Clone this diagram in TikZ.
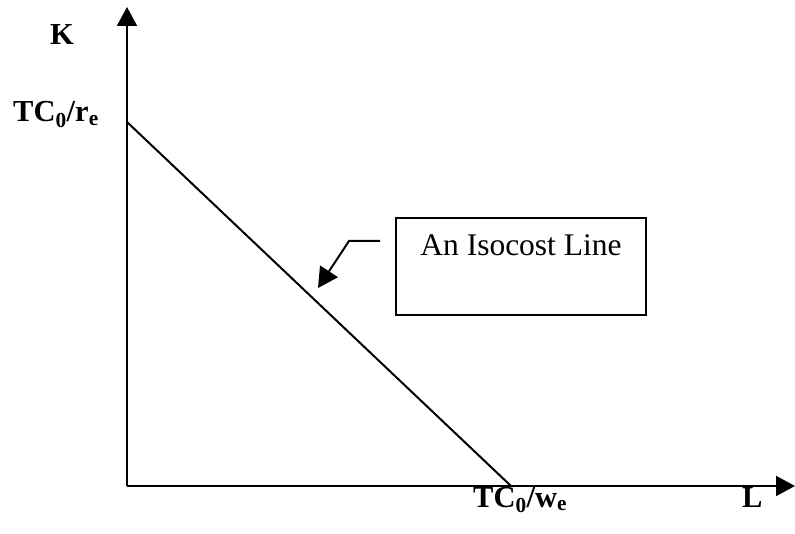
\documentclass[tikz,border=0pt]{standalone}
\usepackage{fontspec}
\setmainfont{Liberation Serif}
\usepackage{tikz}
\usetikzlibrary{arrows.meta,positioning,calc}
\newcommand{\sub}[1]{\textsubscript{#1}}

\begin{document}
\begin{tikzpicture}[
    x=1pt, y=1pt,
    axisLine/.style={-{Triangle[length=19pt,width=20pt]}, line width=2pt},
    costLine/.style={line width=2pt},
    axisLabel/.style={font=\fontsize{30.5}{36}\selectfont\bfseries, inner sep=0pt, anchor=base west},
    calloutBox/.style={
        rectangle,
        draw,
        line width=2pt,
        minimum width=250pt,
        minimum height=97pt
    },
    calloutArrow/.style={-{Triangle[length=20pt,width=21pt]}, line width=2pt}
]
    \useasboundingbox (0,0) rectangle (795,533);

    \coordinate (origin) at (127,47);
    \coordinate (kTop) at (127,526);
    \coordinate (lEnd) at (795,47);
    \coordinate (kIntercept) at (127,411);
    \coordinate (lIntercept) at (511,47);

    \draw[axisLine] (origin) -- (kTop);
    \draw[axisLine] (origin) -- (lEnd);
    \draw[costLine] (kIntercept) -- (lIntercept);

    \node[axisLabel] (kLabel) at (50,488) {K};
    \node[axisLabel] (rLabel) at (13,411) {TC\sub{0}/r\sub{e}};
    \node[axisLabel] (wLabel) at (473,26) {TC\sub{0}/w\sub{e}};
    \node[axisLabel] (lLabel) at (742,26) {L};

    \node[calloutBox] (isoBox) at (521,266.5) {};
    \node[font=\fontsize{31.5}{36}\selectfont, inner sep=0pt, anchor=base]
        (isoText) at ([yshift=-39pt]isoBox.north) {An Isocost Line};

    \coordinate (calloutStart) at (380,292);
    \coordinate (calloutBend) at (349,292);
    \coordinate (calloutTip) at (318,245);
    \draw[calloutArrow] (calloutStart) -- (calloutBend) -- (calloutTip);
\end{tikzpicture}
\end{document}
